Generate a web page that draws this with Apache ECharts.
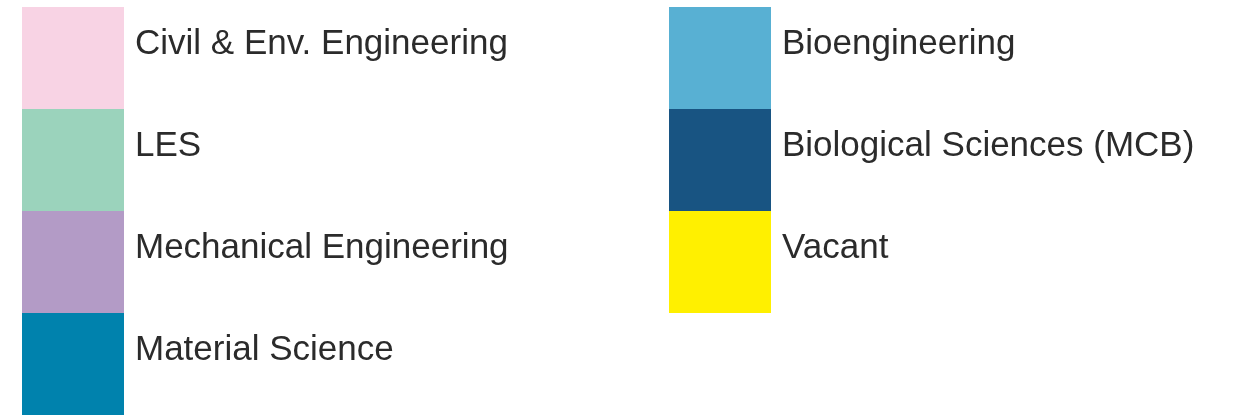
<!DOCTYPE html>
<html>
<head>
<meta charset="utf-8">
<script src="https://cdn.jsdelivr.net/npm/echarts@6/dist/echarts.min.js"></script>
<style>
html,body{margin:0;padding:0;background:#fff;}
#chart{width:1245px;height:419px;}
</style>
</head>
<body>
<div id="chart"></div>
<script>
const categories = ['Civil & Env. Engineering', 'LES', 'Mechanical Engineering', 'Material Science', 'Bioengineering', 'Biological Sciences (MCB)', 'Vacant'];
const colors = ['#f8d3e4', '#9bd3bc', '#b39bc6', '#0082ad', '#58b0d3', '#185482', '#fff000'];
const values = [1, 1, 1, 1, 1, 1, 1];
const leftColumn = categories.slice(0, 4);
const rightColumn = categories.slice(4);

const chart = echarts.init(document.getElementById('chart'), null, {renderer: 'canvas'});
const legendBase = {
  orient: 'vertical',
  top: 7,
  padding: 0,
  itemGap: 0,
  itemWidth: 102,
  itemHeight: 102,
  icon: 'rect',
  selectedMode: false,
  formatter: function (name) { return '{t|' + name + '}\n{s| }'; },
  textStyle: {
    fontFamily: 'Liberation Sans, Arial, sans-serif',
    fontSize: 35,
    color: '#2b2b2b',
    rich: {
      t: {fontFamily: 'Liberation Sans, Arial, sans-serif', fontSize: 35, lineHeight: 42, color: '#2b2b2b', padding: [0, 0, 0, 6]},
      s: {fontSize: 10, lineHeight: 28}
    }
  }
};
chart.setOption({
  animation: false,
  color: colors,
  legend: [
    Object.assign({}, legendBase, {left: 22, data: leftColumn}),
    Object.assign({}, legendBase, {left: 669, data: rightColumn})
  ],
  series: [{
    type: 'pie',
    radius: [0, 0],
    center: [-100, -100],
    silent: true,
    label: {show: false},
    labelLine: {show: false},
    data: categories.map((n, i) => ({name: n, value: values[i]}))
  }]
});
</script>
</body>
</html>
